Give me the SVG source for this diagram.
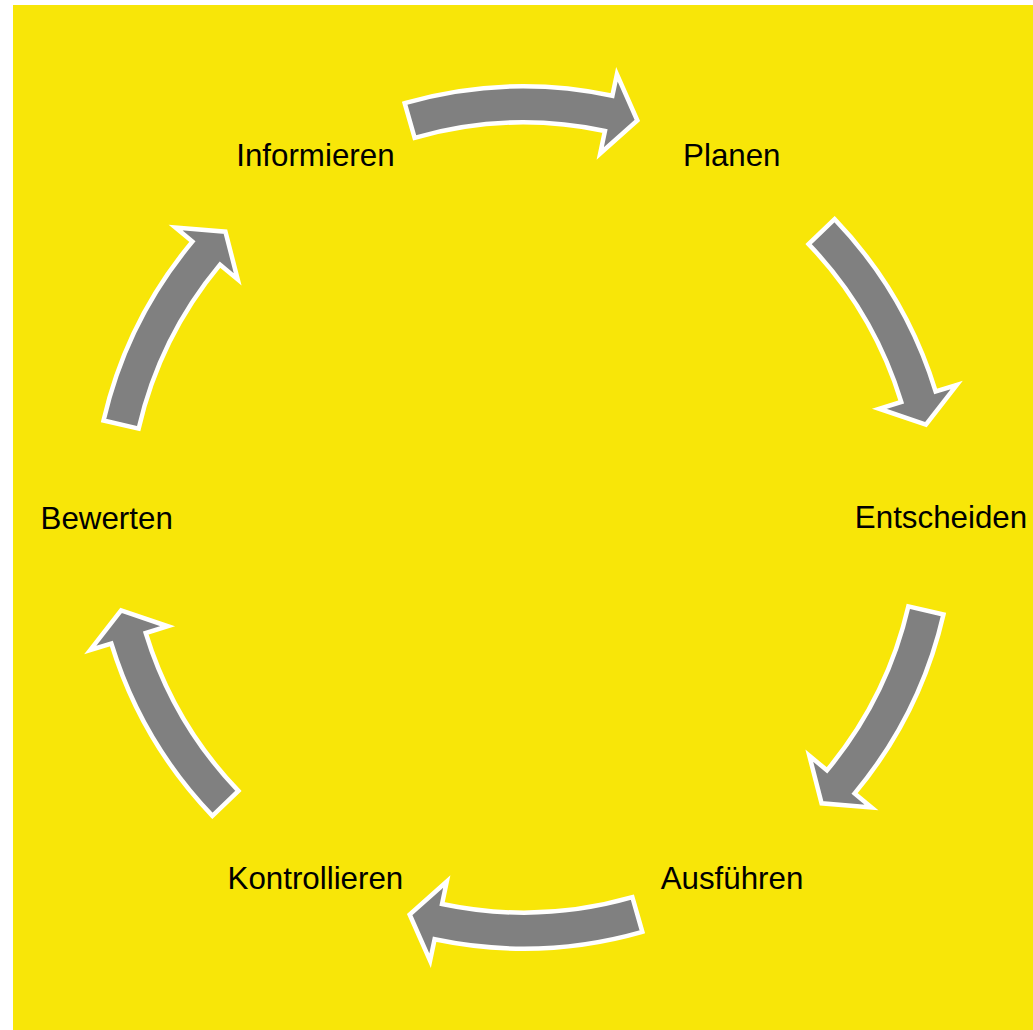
<svg xmlns="http://www.w3.org/2000/svg" xmlns:xlink="http://www.w3.org/1999/xlink" width="1033" height="1030" viewBox="0 0 1033 1030">
<style>
.lbl{font-family:"Liberation Sans",Arial,sans-serif;font-size:31.3px;fill:#000;text-anchor:middle}
.arr{fill:#808080;stroke:#fff;stroke-width:4.5;stroke-linejoin:miter}
</style>
<defs>
<path id="arrA" d="M404.70,103.20 A431,431 0 0 1 612.37,95.76 L616.91,74.23 L637.34,120.50 L600.21,153.49 L604.95,130.99 A395,395 0 0 0 414.62,137.80 Z"/>
<path id="arrB" d="M409.04,101.97 A431,431 0 0 1 608.69,95.00 L613.04,73.44 L633.18,119.33 L597.03,152.84 L601.58,130.29 A395,395 0 0 0 418.60,136.68 Z"/>
</defs>
<rect x="13" y="5" width="1020" height="1025" fill="#F8E608"/>
<g id="connectors">
<use xlink:href="#arrA" class="arr"/>
<use xlink:href="#arrB" class="arr" transform="rotate(61.6 523.5 517.5)"/>
<use xlink:href="#arrB" class="arr" transform="rotate(118.4 523.5 517.5)"/>
<use xlink:href="#arrA" class="arr" transform="rotate(180 523.5 517.5)"/>
<use xlink:href="#arrB" class="arr" transform="rotate(241.6 523.5 517.5)"/>
<use xlink:href="#arrB" class="arr" transform="rotate(-61.6 523.5 517.5)"/>
</g>
<g id="node-informieren"><text class="lbl" x="315.4" y="166">Informieren</text></g>
<g id="node-planen"><text class="lbl" x="731.8" y="166">Planen</text></g>
<g id="node-entscheiden"><text class="lbl" x="941" y="528">Entscheiden</text></g>
<g id="node-ausfuehren"><text class="lbl" x="732" y="889">Ausführen</text></g>
<g id="node-kontrollieren"><text class="lbl" x="315.4" y="889">Kontrollieren</text></g>
<g id="node-bewerten"><text class="lbl" x="106.7" y="529">Bewerten</text></g>
</svg>
